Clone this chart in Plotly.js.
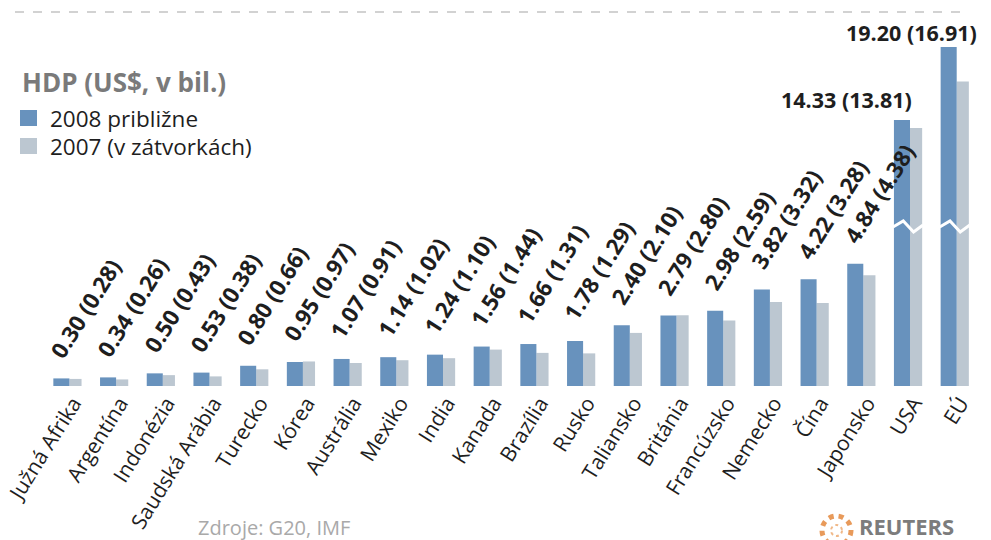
<!DOCTYPE html>
<html>
<head>
<meta charset="utf-8">
<script src="https://cdn.plot.ly/plotly-3.0.1.min.js"></script>
<style>
  html, body { margin: 0; padding: 0; background: #ffffff; }
  #chart { width: 991px; height: 540px; }
</style>
</head>
<body>
<div id="chart"></div>
<script>
// ---------------- DATA ----------------
const categories = ['Južná Afrika', 'Argentína', 'Indonézia', 'Saudská Arábia', 'Turecko', 'Kórea',
  'Austrália', 'Mexiko', 'India', 'Kanada', 'Brazília', 'Rusko', 'Taliansko', 'Británia',
  'Francúzsko', 'Nemecko', 'Čína', 'Japonsko', 'USA', 'EÚ'];
const gdp2008 = [0.30, 0.34, 0.50, 0.53, 0.80, 0.95, 1.07, 1.14, 1.24, 1.56, 1.66, 1.78, 2.40, 2.79,
  2.98, 3.82, 4.22, 4.84, 14.33, 19.20];
const gdp2007 = [0.28, 0.26, 0.43, 0.38, 0.66, 0.97, 0.91, 1.02, 1.10, 1.44, 1.31, 1.29, 2.10, 2.80,
  2.59, 3.32, 3.28, 4.38, 13.81, 16.91];
const seriesNames = ['2008 približne', '2007 (v zátvorkách)'];
const legendTitle = 'HDP (US$, v bil.)';
const sourceText = 'Zdroje: G20, IMF';
const brandText = 'REUTERS';

// ---------------- STYLE / LAYOUT CONSTANTS ----------------
const W = 991, H = 540;
const M = { l: 44, r: 13, t: 40, b: 154 };
const plotW = W - M.l - M.r, plotH = H - M.t - M.b;
const px2x = px => (px - M.l) / plotW;
const px2y = py => (H - M.b - py) / plotH;

const DARK = '#6892bd';
const LIGHT = '#bcc7d1';
const FONT = 'Open Sans, sans-serif';
const TEXT = '#1e1e1e';

// broken axis: lower part linear up to the break, upper part compressed
const breakLow = 6.17;   // top of lower segment
const breakHigh = 7.0;   // bottom of upper segment
const upperTop = 19.67;
const splitPx = 230;     // pixel row of the break
const splitFrac = px2y(splitPx);

const darkOffset = -0.3, darkWidth = 0.344;
const lightOffset = 0.044, lightWidth = 0.26;

// ---------------- TRACES ----------------
function barsFor(xa, ya) {
  return [
    { type: 'bar', x: categories, y: gdp2008, name: seriesNames[0], xaxis: xa, yaxis: ya,
      marker: { color: DARK }, offset: darkOffset, width: darkWidth, showlegend: false, hoverinfo: 'x+y' },
    { type: 'bar', x: categories, y: gdp2007, name: seriesNames[1], xaxis: xa, yaxis: ya,
      marker: { color: LIGHT }, offset: lightOffset, width: lightWidth, showlegend: false, hoverinfo: 'x+y' }
  ];
}
const tr = [];
const lowBars = barsFor('x', 'y');
const highBars = barsFor('x2', 'y2');
tr.push(lowBars[1], lowBars[0], highBars[1], highBars[0]);

// ---------------- ANNOTATIONS ----------------
const annotations = [];
const ANGLE = -58;
categories.forEach((c, i) => {
  const label = gdp2008[i].toFixed(2) + ' (' + gdp2007[i].toFixed(2) + ')';
  if (gdp2008[i] < breakLow) {
    annotations.push({
      x: c, y: gdp2008[i], xref: 'x', yref: 'y', text: label, showarrow: false,
      textangle: ANGLE, xanchor: 'left', yanchor: 'bottom', xshift: -27, yshift: 12,
      font: { family: FONT, size: 22.5, color: TEXT, weight: 700 }
    });
  } else {
    const isLast = i === categories.length - 1;
    annotations.push({
      x: c, y: gdp2008[i], xref: 'x2', yref: 'y2', text: label, showarrow: false,
      xanchor: 'right', yanchor: 'bottom', xshift: isLast ? 24 : 6, yshift: isLast ? -2 : 4,
      font: { family: FONT, size: 21.5, color: TEXT, weight: 700 }
    });
  }
});

// legend (custom)
annotations.push({
  xref: 'paper', yref: 'paper', x: px2x(20), y: px2y(82), xanchor: 'left', yanchor: 'middle',
  text: legendTitle, showarrow: false, font: { family: FONT, size: 26, color: '#7a7a7a', weight: 700 }
});
annotations.push({
  xref: 'paper', yref: 'paper', x: px2x(48), y: px2y(118), xanchor: 'left', yanchor: 'middle',
  text: seriesNames[0], showarrow: false, font: { family: FONT, size: 22.5, color: TEXT }
});
annotations.push({
  xref: 'paper', yref: 'paper', x: px2x(48), y: px2y(146), xanchor: 'left', yanchor: 'middle',
  text: seriesNames[1], showarrow: false, font: { family: FONT, size: 22.5, color: TEXT }
});
// source and brand
annotations.push({
  xref: 'paper', yref: 'paper', x: px2x(196), y: px2y(527), xanchor: 'left', yanchor: 'middle',
  text: sourceText, showarrow: false, font: { family: FONT, size: 20, color: '#a9a9a9' }
});
annotations.push({
  xref: 'paper', yref: 'paper', x: px2x(857), y: px2y(526), xanchor: 'left', yanchor: 'middle',
  text: brandText, showarrow: false, font: { family: FONT, size: 22, color: '#7c7c7c', weight: 700 }
});

// ---------------- SHAPES ----------------
const shapes = [];
shapes.push({ type: 'line', xref: 'paper', yref: 'paper', x0: px2x(15), x1: px2x(962),
  y0: px2y(12), y1: px2y(12), line: { color: '#c4c4c4', width: 1.5, dash: 'dash' } });
shapes.push({ type: 'rect', xref: 'paper', yref: 'paper', x0: px2x(20), x1: px2x(37),
  y0: px2y(110), y1: px2y(126), fillcolor: DARK, line: { width: 0 } });
shapes.push({ type: 'rect', xref: 'paper', yref: 'paper', x0: px2x(20), x1: px2x(37),
  y0: px2y(138), y1: px2y(154), fillcolor: LIGHT, line: { width: 0 } });
categories.forEach((c, i) => {
  if (gdp2008[i] >= breakLow) {
    const xs = [i + darkOffset - 0.02, i - 0.1, i + 0.12, i + lightOffset + lightWidth + 0.02];
    const ys = [splitPx - 3, splitPx - 9, splitPx + 2, splitPx - 5].map(px2y);
    const p = 'M' + xs.map((x, k) => x + ',' + ys[k]).join('L');
    shapes.push({ type: 'path', xref: 'x', yref: 'paper', path: p,
      line: { color: '#ffffff', width: 3 } });
  }
});
shapes.push({ type: 'circle', xref: 'paper', yref: 'paper',
  x0: px2x(822), x1: px2x(851), y0: px2y(545), y1: px2y(516),
  line: { color: '#e89a5a', width: 5, dash: 'dot' }, fillcolor: 'rgba(0,0,0,0)' });
shapes.push({ type: 'circle', xref: 'paper', yref: 'paper',
  x0: px2x(831), x1: px2x(842), y0: px2y(536), y1: px2y(525),
  line: { color: '#f0b888', width: 2, dash: 'dot' }, fillcolor: 'rgba(0,0,0,0)' });

// ---------------- LAYOUT ----------------
const layout = {
  width: W, height: H,
  margin: M,
  paper_bgcolor: '#ffffff', plot_bgcolor: 'rgba(0,0,0,0)',
  showlegend: false,
  barmode: 'overlay',
  font: { family: FONT, color: TEXT },
  xaxis: {
    type: 'category', range: [-0.5, categories.length - 0.5], anchor: 'y',
    showgrid: false, zeroline: false, showline: false, ticks: '',
    tickangle: ANGLE, tickfont: { family: FONT, size: 21, color: TEXT },
    ticklabelshift: 6,
    automargin: false, fixedrange: true
  },
  yaxis: {
    domain: [0, splitFrac], range: [0, breakLow], visible: false, fixedrange: true
  },
  xaxis2: {
    type: 'category', matches: 'x', anchor: 'y2', visible: false, fixedrange: true
  },
  yaxis2: {
    domain: [splitFrac, 1], range: [breakHigh, upperTop], visible: false, fixedrange: true
  },
  annotations: annotations,
  shapes: shapes
};

Plotly.newPlot('chart', tr, layout, { displayModeBar: false, staticPlot: true });
</script>
</body>
</html>
